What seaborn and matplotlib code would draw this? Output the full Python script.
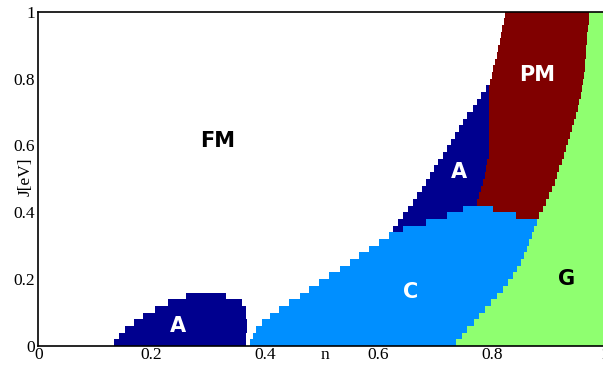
import numpy as np
import pandas as pd
import matplotlib
matplotlib.use("Agg")
import matplotlib.pyplot as plt
import seaborn as sns
from matplotlib.colors import ListedColormap

# ---------------- data ----------------
J_STEP = 0.02          # row height in J [eV]
N_ROWS = 50            # rows from J=0 to J=1
phase_names = ["FM", "A", "C", "PM", "G"]
phase_colors = ["#FFFFFF", "#00008F", "#008FFF", "#800000", "#8FFF70"]

# low-density A pocket, rows 0..7 (n where it starts / ends)
a1_start = [0.134, 0.143, 0.153, 0.168, 0.185, 0.206, 0.228, 0.260]
a1_end = [0.366, 0.367, 0.368, 0.368, 0.367, 0.366, 0.359, 0.332]

# C phase start, rows 0..20
c_start = [0.374, 0.378, 0.384, 0.394, 0.409, 0.425, 0.443, 0.461, 0.478,
           0.496, 0.513, 0.532, 0.550, 0.566, 0.584, 0.602, 0.618, 0.643,
           0.684, 0.721, 0.749]

# upper A phase start, rows 17..38
a2_first_row = 17
a2_start = [0.626, 0.635, 0.644, 0.653, 0.661, 0.669, 0.677, 0.684, 0.691,
            0.698, 0.706, 0.714, 0.721, 0.728, 0.735, 0.743, 0.750, 0.757,
            0.767, 0.775, 0.782, 0.790]

# PM phase start, rows 19..49
pm_first_row = 19
pm_start = [0.843, 0.802, 0.774, 0.778, 0.782, 0.785, 0.788, 0.790, 0.792,
            0.795, 0.795, 0.795, 0.795, 0.795, 0.795, 0.795, 0.795, 0.795,
            0.795, 0.795, 0.797, 0.800, 0.803, 0.806, 0.809, 0.812, 0.814,
            0.816, 0.818, 0.821, 0.824]

# G phase start, rows 0..49
g_start = [0.737, 0.747, 0.756, 0.768, 0.778, 0.788, 0.798, 0.810, 0.820,
           0.829, 0.837, 0.845, 0.852, 0.857, 0.862, 0.866, 0.872, 0.875,
           0.880, 0.884, 0.890, 0.896, 0.902, 0.906, 0.911, 0.915, 0.919,
           0.924, 0.928, 0.931, 0.935, 0.938, 0.941, 0.945, 0.949, 0.952,
           0.954, 0.957, 0.959, 0.961, 0.963, 0.964, 0.965, 0.966, 0.967,
           0.968, 0.969, 0.970, 0.971, 0.972]

x_ticks = [0, 0.2, 0.4, 0.6, 0.8, 1.0]
x_tick_labels = ["0", "0.2", "0.4", "0.6", "0.8", "1"]
y_ticks = [0, 0.2, 0.4, 0.6, 0.8, 1.0]
y_tick_labels = ["0", "0.2", "0.4", "0.6", "0.8", "1"]

region_labels = ["FM", "A", "C", "A", "PM", "G"]
region_n = [0.317, 0.247, 0.657, 0.742, 0.880, 0.933]
region_J = [0.613, 0.060, 0.162, 0.520, 0.811, 0.200]
region_colors = ["black", "white", "white", "white", "white", "black"]

# ---------------- build the phase grid ----------------
RES = 1000
n_centers = (np.arange(RES) + 0.5) / RES
grid = np.zeros((N_ROWS, RES), dtype=int)
for j in range(N_ROWS):
    row = grid[j]
    if j < len(a1_start):
        row[(n_centers >= a1_start[j]) & (n_centers < a1_end[j])] = 1
    k = j - a2_first_row
    if 0 <= k < len(a2_start):
        row[n_centers >= a2_start[k]] = 1
    if j < len(c_start):
        row[n_centers >= c_start[j]] = 2
    k = j - pm_first_row
    if 0 <= k < len(pm_start):
        row[n_centers >= pm_start[k]] = 3
    row[n_centers >= g_start[j]] = 4

df = pd.DataFrame(grid)

# ---------------- plot ----------------
sns.set_theme(style="white")
plt.rcParams["font.family"] = ["Liberation Serif", "DejaVu Serif"]

W, H = 603, 372
fig = plt.figure(figsize=(W / 100, H / 100), dpi=100)
ax = fig.add_axes([38.3 / W, 26 / H, 566.7 / W, 334.3 / H])

sns.heatmap(df, cmap=ListedColormap(phase_colors), vmin=-0.5, vmax=4.5,
            cbar=False, ax=ax, xticklabels=False, yticklabels=False,
            linewidths=0)
ax.set_xlim(0, RES)
ax.set_ylim(0, N_ROWS)

for s in ["top", "bottom", "left", "right"]:
    ax.spines[s].set_visible(True)
    ax.spines[s].set_color("black")
    ax.spines[s].set_linewidth(1.2)

ax.set_xticks([t * RES for t in x_ticks])
ax.set_xticklabels(x_tick_labels, rotation=0)
ax.set_yticks([t / J_STEP for t in y_ticks])
ax.set_yticklabels(y_tick_labels, rotation=0)
ax.tick_params(axis="x", length=0, pad=0.5, labelsize=12.5, colors="black")
ax.tick_params(axis="y", length=0, pad=2.5, labelsize=12.5, colors="black")

ax.set_xlabel("n", fontsize=12.5, color="black")
ax.xaxis.set_label_coords(0.506, -0.004)
ax.set_ylabel("J[eV]", fontsize=12.5, color="black")
ax.yaxis.set_label_coords(-0.008, 0.505)

for lab, nn, jj, col in zip(region_labels, region_n, region_J, region_colors):
    ax.text(nn * RES, jj / J_STEP, lab, ha="center", va="center",
            fontsize=15, fontweight="bold", color=col,
            family=["DejaVu Sans"])

fig.savefig("out.png", dpi=100)
